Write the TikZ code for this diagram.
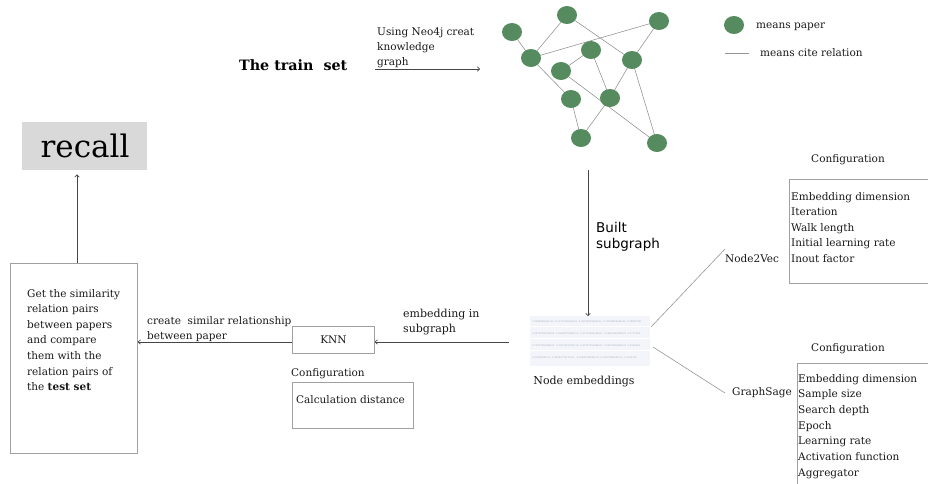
\documentclass[tikz,border=0pt]{standalone}
\usepackage{fontspec}
\setmainfont{DejaVu Serif}
\newfontfamily\labelsans{DejaVu Sans}
\usetikzlibrary{arrows.meta,shapes.geometric,backgrounds}

\definecolor{paper}{RGB}{86,139,96}
\definecolor{edgegray}{RGB}{150,150,150}
\definecolor{boxgray}{RGB}{160,160,160}
\definecolor{arrowgray}{RGB}{70,70,70}
\definecolor{recallgray}{RGB}{217,217,217}
\definecolor{embfill}{RGB}{243,245,250}
\definecolor{embtext}{RGB}{165,170,182}

\tikzset{
  papernode/.style={ellipse, fill=paper, minimum width=20, minimum height=18, inner sep=0},
  cite/.style={draw=edgegray, line width=0.6pt},
  flow/.style={draw=arrowgray, line width=0.7pt, -{To[length=3pt,width=5pt]}},
  panel/.style={draw=boxgray, line width=0.8pt, inner sep=0},
  txt/.style={inner sep=0, anchor=base west, font=\fontsize{10.5}{12}\selectfont, text=black!90},
  midtxt/.style={inner sep=0, anchor=base, font=\fontsize{10.5}{12}\selectfont, text=black!90},
  embrow/.style={inner sep=0, anchor=base west, font=\fontsize{2.3}{2.7}\selectfont, text=embtext},
}

\begin{document}
\begin{tikzpicture}[x=1pt,y=-1pt]
\useasboundingbox (0,0) rectangle (928,483);

% ---------- citation graph ----------
\node[papernode] (pA) at (512,32) {};
\node[papernode] (pB) at (567,15) {};
\node[papernode] (pC) at (659,21) {};
\node[papernode] (pD) at (531,58) {};
\node[papernode] (pE) at (591,50) {};
\node[papernode] (pF) at (632,60) {};
\node[papernode] (pG) at (561,71) {};
\node[papernode] (pH) at (571,99) {};
\node[papernode] (pI) at (610,98) {};
\node[papernode] (pJ) at (581,138) {};
\node[papernode] (pK) at (657,143) {};
\begin{scope}[on background layer]
\draw[cite] (pA.center) -- (pD.center);
\draw[cite] (pB.center) -- (pD.center);
\draw[cite] (pB.center) -- (pF.center);
\draw[cite] (pD.center) -- (pC.center);
\draw[cite] (pC.center) -- (pF.center);
\draw[cite] (pE.center) -- (pG.center);
\draw[cite] (pE.center) -- (pI.center);
\draw[cite] (pD.center) -- (pH.center);
\draw[cite] (pG.center) -- (pK.center);
\draw[cite] (pF.center) -- (pI.center);
\draw[cite] (pI.center) -- (pJ.center);
\draw[cite] (pH.center) -- (pJ.center);
\draw[cite] (pF.center) -- (pK.center);
\end{scope}

% ---------- legend ----------
\node[papernode] (legP) at (734,25) {};
\node[txt] (legPtxt) at (756,28) {means paper};
\coordinate (legL1) at (725,53);
\coordinate (legL2) at (749,53);
\draw[cite] (legL1) -- (legL2);
\node[txt] (legLtxt) at (760,56) {means cite relation};

% ---------- training set ----------
\node[inner sep=0, anchor=base west, font=\fontsize{14.3}{17}\selectfont\bfseries] (train) at (239,70) {The train\ \ set};
\node[txt] (neo1) at (377,35) {Using Neo4j creat};
\node[txt] (neo2) at (377,50) {knowledge};
\node[txt] (neo3) at (377,65) {graph};
\coordinate (neoS) at (375,69);
\coordinate (neoE) at (480,69);
\draw[flow] (neoS) -- (neoE);

% ---------- subgraph / embeddings ----------
\coordinate (subS) at (588,170);
\node[inner sep=0, anchor=base west, font=\labelsans\fontsize{13.5}{16}\selectfont] (built1) at (596,232) {Built};
\node[inner sep=0, anchor=base west, font=\labelsans\fontsize{13.5}{16}\selectfont] (built2) at (596,248) {subgraph};

\node[fill=embfill, minimum width=120, minimum height=50, inner sep=0, anchor=north west] (emb) at (530,316) {};
\foreach \yy in {326,338,350} \draw[white, line width=0.8pt] (530,\yy) -- (650,\yy);
\node[embrow] (er1) at (532,322) {7.039994600E-02, -0.1172733636E-01, 0.3625503340E-02, -0.1703489634E-01, 0.24680780};
\node[embrow] (er2) at (532,334) {0.0872970976E-02, 0.3569037650E-01, -0.3173320619E-01, 0.1440946262E-01, 0.1771500};
\node[embrow] (er3) at (532,346) {0.7547735004E-01, -0.3607451021E-01, 0.4375735346E-01, 0.0501065959E-01, 0.1936553};
\node[embrow] (er4) at (532,358) {0.0135003E-01, -0.4239577317E-01, -0.2364532404E-01, 0.1057308462E-01, 0.2539708};
\draw[flow] (subS) -- (emb.north -| subS);
\node[inner sep=0, anchor=base, font=\fontsize{11}{13}\selectfont, text=black!90] (embtxt) at (584,384) {Node embeddings};

% ---------- Node2Vec ----------
\node[txt] (n2v) at (725,262) {Node2Vec};
\coordinate (n2vS) at (651,327);
\coordinate (n2vE) at (725,249);
\draw[cite] (n2vS) -- (n2vE);
\node[midtxt] (n2vcfg) at (848,162) {Configuration};
\node[panel, minimum width=138.5, minimum height=104, anchor=north west] (n2vbox) at (789,179) {};
\foreach [count=\i from 0] \t in {Embedding dimension, Iteration, Walk length, Initial learning rate, Inout factor}
  \node[txt] (n2vp\i) at (791,200+15.6*\i) {\t};

% ---------- GraphSage ----------
\node[txt] (gsg) at (732,395) {GraphSage};
\coordinate (gsgS) at (653,347);
\coordinate (gsgE) at (725,393);
\draw[cite] (gsgS) -- (gsgE);
\node[midtxt] (gsgcfg) at (848,351) {Configuration};
\coordinate (gsgTR) at (928,363);
\coordinate (gsgTL) at (797,363);
\coordinate (gsgBL) at (797,484);
\draw[draw=boxgray, line width=0.8pt] (gsgTR) -- (gsgTL) -- (gsgBL);
\foreach [count=\i from 0] \t in {Embedding dimension, Sample size, Search depth, Epoch, Learning rate, Activation function, Aggregator}
  \node[txt] (gsgp\i) at (798,382+15.7*\i) {\t};

% ---------- KNN ----------
\node[panel, minimum width=82, minimum height=27, anchor=north west] (knn) at (292,326) {};
\node[inner sep=0, font=\fontsize{10.5}{12}\selectfont, text=black!90] (knntxt) at (knn.center) {KNN};
\coordinate (knnS) at (509,342);
\draw[flow] (knnS) -- (knnS -| knn.east);
\node[txt, font=\fontsize{11}{13}\selectfont] (emb1) at (403,317) {embedding in};
\node[txt, font=\fontsize{11}{13}\selectfont] (emb2) at (403,332) {subgraph};
\node[txt] (knncfg) at (291,376) {Configuration};
\node[panel, minimum width=121, minimum height=46, anchor=north west] (distbox) at (292,382) {};
\node[txt] (dist) at (296,403) {Calculation distance};

% ---------- comparison ----------
\node[panel, minimum width=127, minimum height=190, anchor=north west] (cmp) at (10,263) {};
\foreach [count=\i from 0] \t in {Get the similarity, relation pairs, between papers, and compare, them with the, relation pairs of, the \textbf{test set}}
  \node[txt] (cmp\i) at (27,297+15.6*\i) {\t};
\draw[flow] (knn.west |- 0,342) -- (cmp.east |- 0,342);
\node[txt] (sim1) at (147,324) {create\ \ similar relationship};
\node[txt] (sim2) at (147,339) {between paper};

% ---------- recall ----------
\node[fill=recallgray, minimum width=125, minimum height=48, anchor=north west, inner sep=0] (recall) at (22,122) {};
\node[inner sep=0, font=\fontsize{31}{36}\selectfont] (recalltxt) at (85,146) {recall};
\draw[flow, shorten >=4pt] (cmp.north -| 77,0) -- (recall.south -| 77,0);
\end{tikzpicture}
\end{document}
